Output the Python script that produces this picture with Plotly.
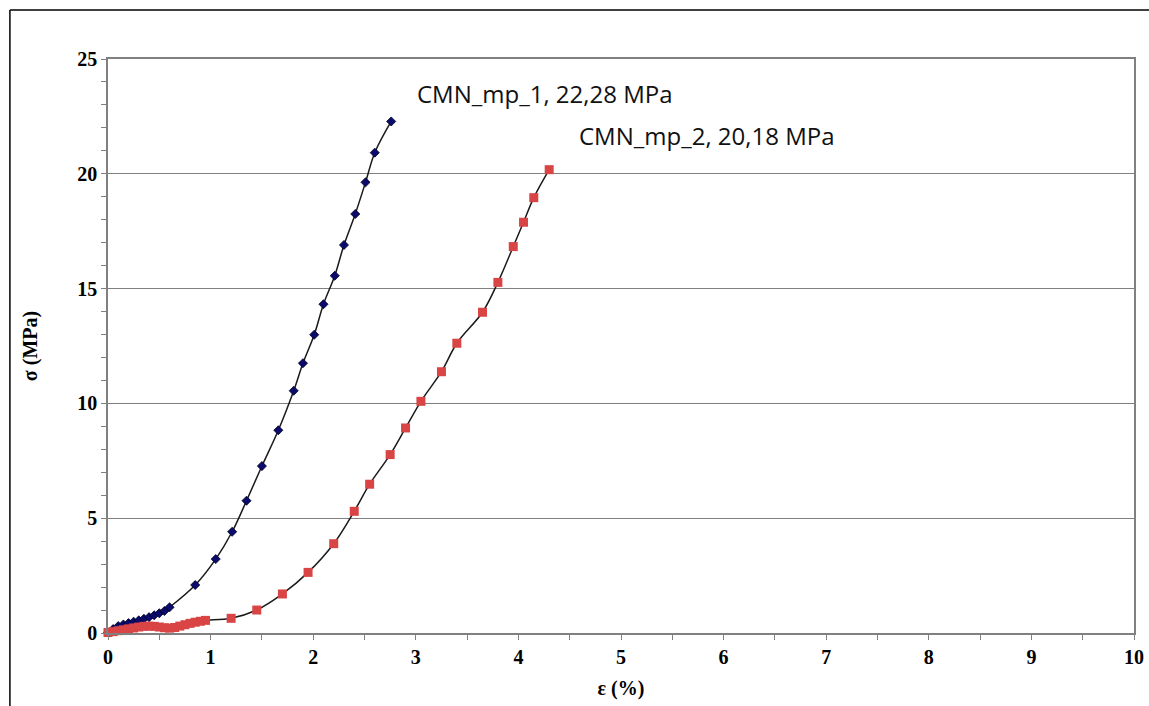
import plotly.graph_objects as go

# Stress-strain data: strain (%) and stress (MPa)
strain_mp1 = [0.0, 0.05, 0.10, 0.15, 0.20, 0.25, 0.30, 0.35, 0.40, 0.45, 0.50, 0.55, 0.60,
              0.85, 1.05, 1.21, 1.35, 1.50, 1.66, 1.81, 1.90, 2.01, 2.10, 2.21, 2.30, 2.41,
              2.51, 2.60, 2.76]
stress_mp1 = [0.03, 0.17, 0.30, 0.37, 0.43, 0.49, 0.55, 0.62, 0.69, 0.77, 0.86, 0.96, 1.12,
              2.09, 3.22, 4.41, 5.76, 7.27, 8.83, 10.55, 11.75, 12.99, 14.32, 15.56, 16.90,
              18.25, 19.63, 20.92, 22.28]

strain_mp2 = [0.0, 0.05, 0.10, 0.15, 0.20, 0.25, 0.30, 0.35, 0.40, 0.45, 0.50, 0.55, 0.60,
              0.65, 0.70, 0.75, 0.80, 0.85, 0.90, 0.95,
              1.20, 1.45, 1.70, 1.95, 2.20, 2.40, 2.55, 2.75, 2.90, 3.05, 3.25, 3.40, 3.65,
              3.80, 3.95, 4.05, 4.15, 4.30]
stress_mp2 = [0.02, 0.06, 0.10, 0.14, 0.18, 0.22, 0.26, 0.29, 0.30, 0.29, 0.26, 0.23, 0.21,
              0.24, 0.30, 0.36, 0.42, 0.47, 0.51, 0.55,
              0.64, 1.00, 1.70, 2.64, 3.89, 5.30, 6.48, 7.77, 8.93, 10.09, 11.38, 12.62, 13.97,
              15.27, 16.83, 17.89, 18.96, 20.18]

labels = ["CMN_mp_1, 22,28 MPa", "CMN_mp_2, 20,18 MPa"]

fig = go.Figure()

fig.add_trace(go.Scatter(
    x=strain_mp1, y=stress_mp1, mode="lines+markers", line_shape="spline",
    line=dict(color="#1a1a1a", width=1.5),
    marker=dict(symbol="diamond", size=7, color="#0b0b6b",
                line=dict(color="#000022", width=0.8)),
    cliponaxis=False, showlegend=False, name=labels[0],
))
fig.add_trace(go.Scatter(
    x=strain_mp2, y=stress_mp2, mode="lines+markers", line_shape="spline",
    line=dict(color="#1a1a1a", width=1.5),
    marker=dict(symbol="square", size=9, color="#d94545",
                line=dict(width=0)),
    cliponaxis=False, showlegend=False, name=labels[1],
))

# Series labels placed beside the curve ends
fig.add_annotation(x=strain_mp1[-1] + 0.23, y=stress_mp1[-1] + 1.2, text=labels[0],
                   showarrow=False, xanchor="left", yanchor="middle",
                   font=dict(family="Open Sans", size=24, color="#111111"))
fig.add_annotation(x=strain_mp2[-1] + 0.27, y=stress_mp2[-1] + 1.5, text=labels[1],
                   showarrow=False, xanchor="left", yanchor="middle",
                   font=dict(family="Open Sans", size=24, color="#111111"))

# Outer frame around the figure (left and top edges)
fig.add_shape(type="line", xref="paper", yref="paper", x0=-0.0956, x1=1.0146, y0=1.0854, y1=1.0854,
              line=dict(color="#000000", width=1.5))
fig.add_shape(type="line", xref="paper", yref="paper", x0=-0.0956, x1=-0.0956, y0=1.0854, y1=-0.1272,
              line=dict(color="#000000", width=1.5))

axis_font = dict(family="Liberation Serif", size=20, color="#000000")
tick_font = dict(family="Liberation Serif", size=20, color="#000000")

fig.update_layout(
    width=1149, height=706,
    margin=dict(l=108, r=15, t=59, b=73, autoexpand=False),
    paper_bgcolor="white", plot_bgcolor="white",
    xaxis=dict(
        range=[0, 10], dtick=1, tick0=0, automargin=False,
        showline=True, linecolor="#808080", linewidth=1.5, mirror=True,
        showgrid=False, zeroline=False,
        ticks="outside", ticklen=5, tickcolor="#808080",
        minor=dict(dtick=0.5, ticks="outside", ticklen=5, tickcolor="#808080"),
        tickfont=tick_font,
        title=dict(text="<b>ε (%)</b>", font=axis_font, standoff=14),
        tickprefix="<b>", ticksuffix="</b>",
    ),
    yaxis=dict(
        range=[0, 25], dtick=5, tick0=0, automargin=False,
        showline=True, linecolor="#808080", linewidth=1.5, mirror=True,
        showgrid=True, gridcolor="#808080", gridwidth=1, zeroline=False,
        ticks="outside", ticklen=5, tickcolor="#808080",
        minor=dict(dtick=1, ticks="outside", ticklen=5, tickcolor="#808080", showgrid=False),
        tickfont=tick_font,
        title=dict(text="<b>σ (MPa)</b>", font=axis_font, standoff=34),
        tickprefix="<b>", ticksuffix="</b>",
    ),
)

fig.write_html("out.html")
